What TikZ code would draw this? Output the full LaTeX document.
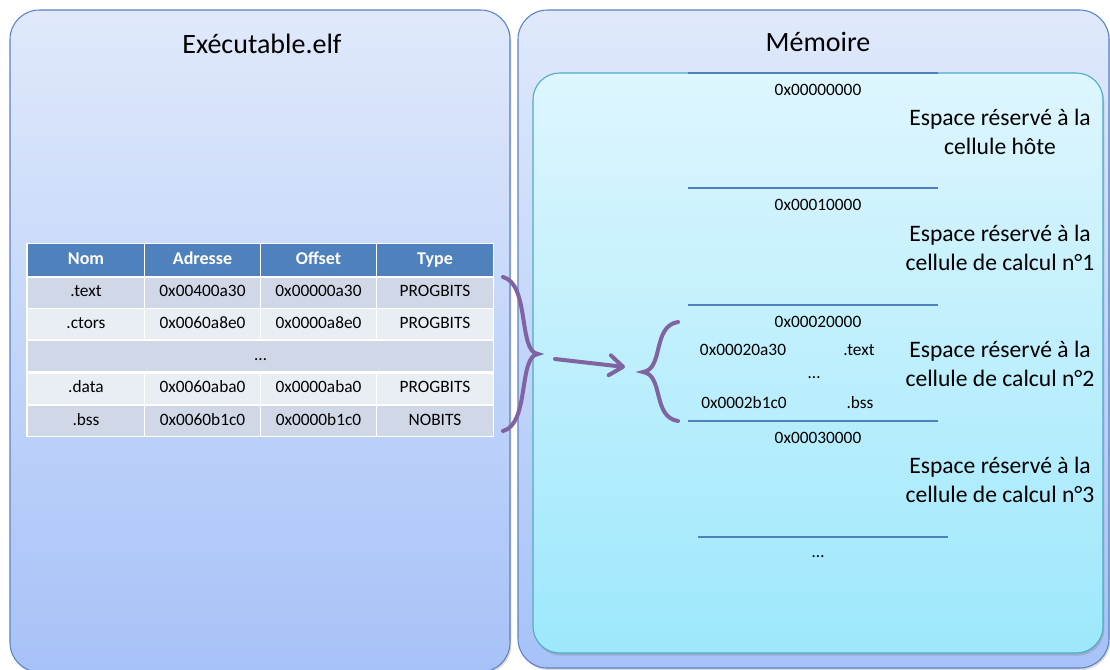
\documentclass[tikz,border=0pt]{standalone}
\usepackage{fontspec}
\setmainfont{Carlito}
\usetikzlibrary{arrows.meta,shadows}
\definecolor{panelline}{HTML}{5B82C4}
\definecolor{paneltop}{HTML}{E0E9FB}
\definecolor{panelbot}{HTML}{A7C2F8}
\definecolor{memtop}{HTML}{DEF6FE}
\definecolor{membot}{HTML}{9DE8FC}
\definecolor{memedge}{HTML}{4BACC6}
\definecolor{sepline}{HTML}{4F81BD}
\definecolor{headfill}{HTML}{4F81BD}
\definecolor{rowdark}{HTML}{D0D8E8}
\definecolor{rowlight}{HTML}{E9EDF4}
\definecolor{bracecol}{HTML}{8064A2}

\begin{document}
\begin{tikzpicture}[x=0.75pt,y=-0.75pt,
    panel/.style={draw=panelline,line width=0.8pt,rounded corners=22pt,
      top color=paneltop,bottom color=panelbot},
    title/.style={font=\fontsize{21}{25}\selectfont},
    cell/.style={fill=#1,minimum width=86.5pt,minimum height=22.5pt,
      inner sep=0pt,text height=1.6ex,text depth=0.3ex,
      font=\fontsize{13}{15}\selectfont},
    head/.style={cell=headfill,text=white,minimum height=24pt,
      font=\bfseries\fontsize{13.5}{15}\selectfont},
    hexlbl/.style={font=\fontsize{13}{15}\selectfont,inner sep=1pt},
    zonelbl/.style={align=center,font=\fontsize{17.7}{21.5}\selectfont},
    sepl/.style={draw=sepline,line width=0.8pt},
    bracel/.style={draw=bracecol,line width=3pt,line cap=round},
    pointer/.style={bracel,-{Straight Barb[length=10pt,width=15pt,round]}}]
  \useasboundingbox (0,0) rectangle (1110,669);

  % panneaux
  \path[panel,drop shadow={shadow xshift=1pt,shadow yshift=-1.5pt,opacity=0.3}]
    (10,10) rectangle (510,672);
  \path[panel,drop shadow={shadow xshift=1pt,shadow yshift=-1.5pt,opacity=0.3}]
    (518,10) rectangle (1109,668);
  \node[title] (elf) at (262,44) {Exécutable.elf};
  \node[title] (mem) at (818,42) {Mémoire};

  % table des sections
  \fill[white] (26,243) rectangle (494,437);
  \foreach \x/\h [count=\c] in {86/Nom,202.5/Adresse,318.5/Offset,435/Type}
    \node[head] (h\c) at (\x,260) {\h};
  \foreach \y/\fc/\nm/\ad/\of/\ty [count=\r] in
      {292.5/rowdark/.text/0x00400a30/0x00000a30/PROGBITS,
       324/rowlight/.ctors/0x0060a8e0/0x0000a8e0/PROGBITS,
       388.5/rowlight/.data/0x0060aba0/0x0000aba0/PROGBITS,
       421/rowdark/.bss/0x0060b1c0/0x0000b1c0/NOBITS} {
    \node[cell=\fc] (nom\r) at (86,\y) {\nm};
    \node[cell=\fc] (adr\r) at (202.5,\y) {\ad};
    \node[cell=\fc] (off\r) at (318.5,\y) {\of};
    \node[cell=\fc] (typ\r) at (435,\y) {\ty};
  }
  \node[cell=rowdark,minimum width=348.5pt] (etc) at (260.5,356) {…};

  % memoire
  \path[draw=memedge,line width=0.8pt,rounded corners=20pt,top color=memtop,
    bottom color=membot,drop shadow={shadow xshift=1pt,shadow yshift=-2pt,opacity=0.35}]
    (533,73) rectangle (1103,653);
  \draw[sepl] (688,73) -- (938,73);
  \draw[sepl] (688,188) -- (938,188);
  \draw[sepl] (688,305) -- (938,305);
  \draw[sepl] (688,421) -- (938,421);
  \draw[sepl] (698,537) -- (948,537);

  \node[hexlbl] (a0) at (818,90) {0x00000000};
  \node[hexlbl] (a1) at (818,205) {0x00010000};
  \node[hexlbl] (a2) at (818,322) {0x00020000};
  \node[hexlbl] (a3) at (818,438) {0x00030000};
  \node[hexlbl] (memetc) at (818,557) {…};

  \node[hexlbl] (txtadr) at (743,350) {0x00020a30};
  \node[hexlbl] (txtsec) at (859,350) {.text};
  \node[hexlbl] (secetc) at (814,378) {…};
  \node[hexlbl] (bssadr) at (744,403) {0x0002b1c0};
  \node[hexlbl] (bsssec) at (860,403) {.bss};

  \node[zonelbl] (z0) at (1000,132) {Espace réservé à la\\cellule hôte};
  \node[zonelbl] (z1) at (1000,248) {Espace réservé à la\\cellule de calcul n°1};
  \node[zonelbl] (z2) at (1000,364) {Espace réservé à la\\cellule de calcul n°2};
  \node[zonelbl] (z3) at (1000,480) {Espace réservé à la\\cellule de calcul n°3};

  % accolades et fleche
  \draw[bracel] (503,277) .. controls (530,284) and (518,352) .. (538,354)
    .. controls (518,356) and (530,424) .. (503,431);
  \draw[bracel] (678,322) .. controls (652,326) and (664,369) .. (643,372)
    .. controls (664,375) and (652,417) .. (678,421);
  \coordinate (ptrfrom) at (555,359);
  \coordinate (ptrto) at (625,367);
  \draw[pointer] (ptrfrom) -- (ptrto);
\end{tikzpicture}
\end{document}
